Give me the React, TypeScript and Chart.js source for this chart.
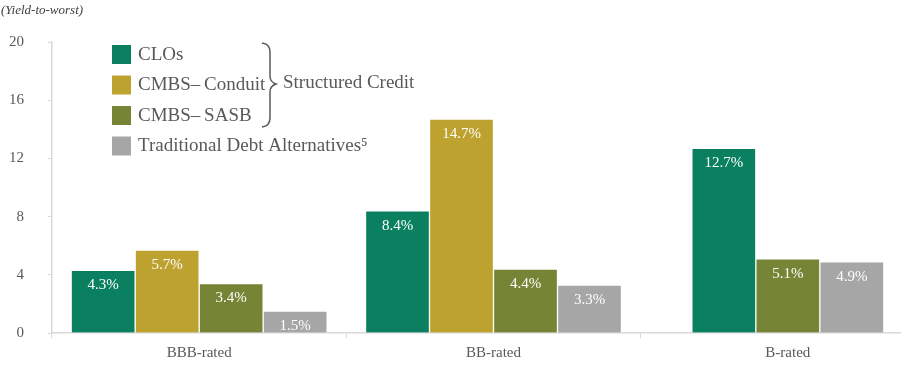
import React, { useEffect, useRef } from 'react';
import { Chart, registerables } from 'chart.js';

Chart.register(...registerables);

const categories = ['BBB-rated', 'BB-rated', 'B-rated'];
const seriesNames = ['CLOs', 'CMBS–\u2009Conduit', 'CMBS–\u2009SASB', 'Traditional Debt Alternatives⁵'];
const clos = [4.3, 8.4, 12.7];
const conduit = [5.7, 14.7, null];
const sasb = [3.4, 4.4, 5.1];
const traditional = [1.5, 3.3, 4.9];
const yTicks = [0, 4, 8, 12, 16, 20];
const yTitle = '(Yield-to-worst)';
const groupLabel = 'Structured Credit';
const colors = ['#0a8061', '#bea22f', '#768436', '#a6a6a6'];

const SERIF = "'Liberation Serif', 'Times New Roman', serif";
const TEXT = '#595959';
const AXIS = '#d9d9d9';

const decorPlugin = {
  id: 'decor',
  afterDatasetsDraw(chart: any) {
    const ctx = chart.ctx;
    ctx.save();
    ctx.font = `15px ${SERIF}`;
    ctx.fillStyle = '#ffffff';
    ctx.textAlign = 'center';
    ctx.textBaseline = 'middle';
    chart.data.datasets.forEach((ds: any, di: number) => {
      const meta = chart.getDatasetMeta(di);
      meta.data.forEach((el: any, i: number) => {
        const v = ds.data[i];
        if (v === null || v === undefined) return;
        ctx.fillText(`${v.toFixed(1)}%`, el.x, el.y + 15);
      });
    });
    ctx.restore();
  },
  afterDraw(chart: any) {
    const ctx = chart.ctx;
    ctx.save();
    // title
    ctx.font = `italic 13px ${SERIF}`;
    ctx.fillStyle = '#404040';
    ctx.textAlign = 'left';
    ctx.textBaseline = 'middle';
    ctx.fillText(yTitle, 1, 11);

    // legend
    ctx.font = `19px ${SERIF}`;
    ctx.fillStyle = TEXT;
    chart.data.datasets.forEach((ds: any, i: number) => {
      const top = 45 + i * 30.5;
      ctx.fillStyle = ds.backgroundColor;
      ctx.fillRect(112, top, 19, 19);
      ctx.fillStyle = TEXT;
      ctx.fillText(ds.label, 138, top + 10);
    });

    // brace
    ctx.strokeStyle = '#595959';
    ctx.lineWidth = 1.5;
    ctx.beginPath();
    ctx.moveTo(262, 43);
    ctx.quadraticCurveTo(270, 44, 270, 52);
    ctx.lineTo(270, 76);
    ctx.quadraticCurveTo(270, 82, 276, 84);
    ctx.quadraticCurveTo(270, 86, 270, 92);
    ctx.lineTo(270, 118);
    ctx.quadraticCurveTo(270, 126, 262, 127);
    ctx.stroke();

    ctx.fillStyle = TEXT;
    ctx.fillText(groupLabel, 283, 83);
    ctx.restore();
  },
};

export default function App() {
  const ref = useRef<HTMLCanvasElement>(null);

  useEffect(() => {
    if (!ref.current) return;
    const series = [clos, conduit, sasb, traditional];
    const chart = new Chart(ref.current, {
      type: 'bar',
      data: {
        labels: categories,
        datasets: series.map((d, i) => ({
          label: seriesNames[i],
          data: d as any,
          backgroundColor: colors[i],
          borderColor: 'rgba(255,255,255,0.7)',
          borderWidth: 1,
          barThickness: 64,
          skipNull: true,
        })) as any,
      },
      options: {
        animation: false,
        responsive: false,
        maintainAspectRatio: false,
        layout: { padding: { left: -15, top: 42, right: 5, bottom: 5 } },
        plugins: {
          legend: { display: false },
          tooltip: { enabled: false },
          title: { display: false },
        },
        scales: {
          x: {
            grid: {
              display: true,
              drawOnChartArea: false,
              tickLength: 5,
              color: AXIS,
              offset: true,
            },
            border: { color: AXIS, width: 1.5 },
            ticks: {
              font: { family: SERIF, size: 15 },
              color: TEXT,
              padding: 6,
            },
          },
          y: {
            min: 0,
            max: 20,
            afterBuildTicks: (axis: any) => {
              axis.ticks = yTicks.map((v) => ({ value: v }));
            },
            grid: { drawOnChartArea: false, tickLength: 4, color: AXIS },
            border: { color: AXIS, width: 1.5 },
            ticks: {
              font: { family: SERIF, size: 15 },
              color: TEXT,
              padding: 24,
            },
          },
        },
      },
      plugins: [decorPlugin],
    });
    return () => chart.destroy();
  }, []);

  return (
    <div
      style={{
        position: 'absolute',
        left: 0,
        top: 0,
        width: 901,
        height: 373,
        overflow: 'hidden',
        background: '#ffffff',
      }}
    >
      <canvas ref={ref} width={940} height={373} style={{ display: 'block' }} />
    </div>
  );
}
